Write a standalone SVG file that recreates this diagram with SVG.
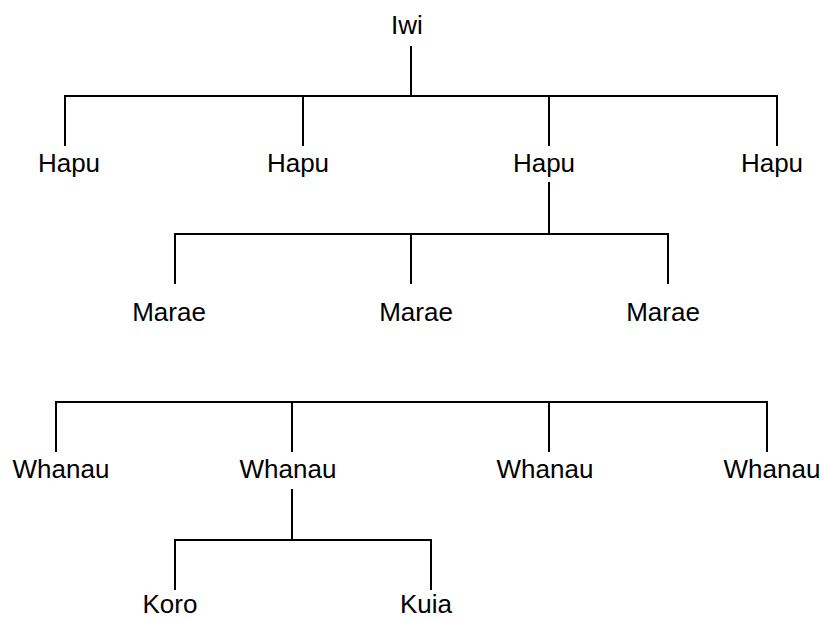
<svg xmlns="http://www.w3.org/2000/svg" width="822" height="618" viewBox="0 0 822 618">
<style>
text{font-family:"Liberation Sans",Arial,sans-serif;font-size:26px;fill:#000;text-anchor:middle}
.c line{stroke:#000;stroke-width:2;stroke-linecap:square}
</style>
<rect width="822" height="618" fill="#fff"/>
<g class="c" id="connectors">
<line x1="411" y1="47" x2="411" y2="96"/>
<line x1="65" y1="96" x2="777" y2="96"/>
<line x1="65" y1="96" x2="65" y2="145"/>
<line x1="303" y1="96" x2="303" y2="145"/>
<line x1="549" y1="96" x2="549" y2="145"/>
<line x1="777" y1="96" x2="777" y2="145"/>
<line x1="549" y1="183" x2="549" y2="234"/>
<line x1="175" y1="234" x2="668" y2="234"/>
<line x1="175" y1="234" x2="175" y2="283"/>
<line x1="411" y1="234" x2="411" y2="283"/>
<line x1="668" y1="234" x2="668" y2="283"/>
<line x1="56" y1="402" x2="767" y2="402"/>
<line x1="56" y1="402" x2="56" y2="451"/>
<line x1="292" y1="402" x2="292" y2="451"/>
<line x1="549" y1="402" x2="549" y2="451"/>
<line x1="767" y1="402" x2="767" y2="451"/>
<line x1="292" y1="490" x2="292" y2="540"/>
<line x1="175" y1="540" x2="431" y2="540"/>
<line x1="175" y1="540" x2="175" y2="589"/>
<line x1="431" y1="540" x2="431" y2="589"/>
</g>
<g id="iwi"><text x="407" y="34">Iwi</text></g>
<g id="hapu1"><text x="69" y="172">Hapu</text></g>
<g id="hapu2"><text x="298" y="172">Hapu</text></g>
<g id="hapu3"><text x="544" y="172">Hapu</text></g>
<g id="hapu4"><text x="772" y="172">Hapu</text></g>
<g id="marae1"><text x="169" y="321">Marae</text></g>
<g id="marae2"><text x="416" y="321">Marae</text></g>
<g id="marae3"><text x="663" y="321">Marae</text></g>
<g id="whanau1"><text x="61" y="478">Whanau</text></g>
<g id="whanau2"><text x="288" y="478">Whanau</text></g>
<g id="whanau3"><text x="545" y="478">Whanau</text></g>
<g id="whanau4"><text x="772" y="478">Whanau</text></g>
<g id="koro"><text x="170" y="613">Koro</text></g>
<g id="kuia"><text x="426" y="613">Kuia</text></g>
</svg>
